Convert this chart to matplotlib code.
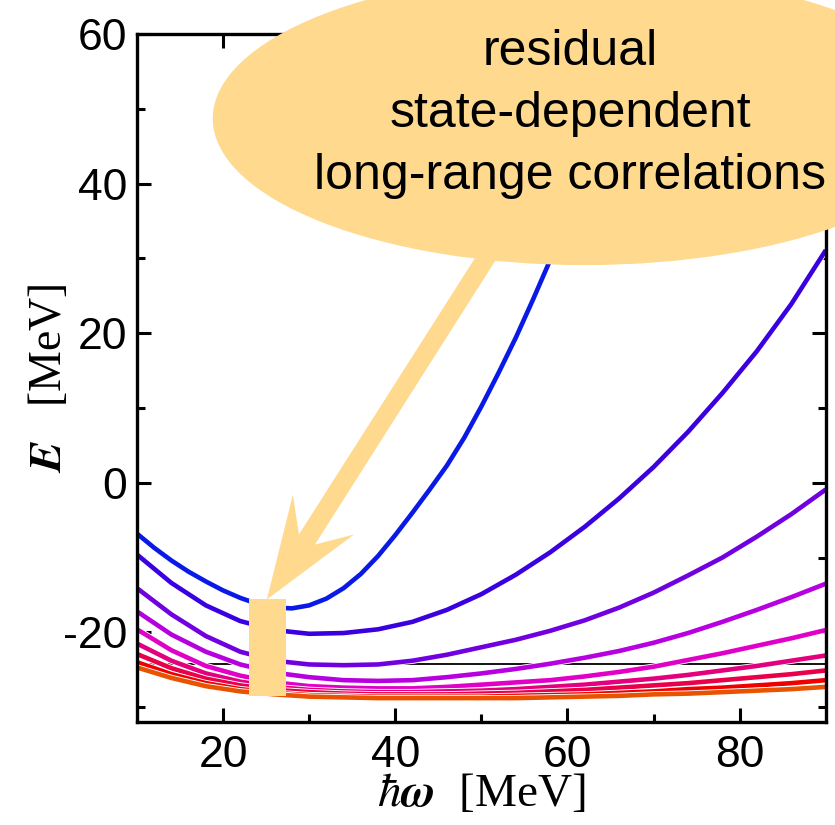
import matplotlib
matplotlib.use("Agg")
import matplotlib.pyplot as plt
import matplotlib.patheffects as pe
from matplotlib.patches import Ellipse, Rectangle, Polygon

plt.rcParams['font.family'] = ['Liberation Sans', 'DejaVu Sans']
plt.rcParams['mathtext.fontset'] = 'stix'
plt.rcParams['axes.unicode_minus'] = False

# oscillator frequency grids (MeV); the steep top curve is sampled finer
hw = [10, 14, 18, 22, 26, 30, 34, 38, 42, 46, 50, 54, 58, 62, 66, 70, 74, 78, 82, 86, 90]
hw1 = [10, 12, 14, 16, 18, 20, 22, 24, 26, 28, 30, 32, 34, 36, 38, 40, 42, 44, 46, 48,
       50, 52, 54, 56, 58, 60, 62, 64, 66, 68, 70]

# ground-state energies, one curve per truncation (top to bottom)
E1 = [-6.8, -8.7, -10.4, -11.9, -13.2, -14.4, -15.4, -16.2, -16.7, -16.8, -16.4, -15.5,
      -14.1, -12.2, -9.8, -7.0, -4.0, -0.9, 2.3, 6.0, 10.2, 14.7, 19.4, 24.5, 29.8,
      35.5, 41.5, 47.6, 54.0, 60.7, 67.5]
E2 = [-9.6, -13.4, -16.4, -18.5, -19.7, -20.2, -20.1, -19.6, -18.6, -17.0, -14.9, -12.3,
      -9.3, -5.9, -2.1, 2.1, 6.8, 12.0, 17.6, 23.9, 31.1]
E3 = [-14.1, -17.6, -20.5, -22.6, -23.8, -24.3, -24.4, -24.3, -23.8, -23.0, -22.0, -21.0,
      -19.8, -18.4, -16.7, -14.7, -12.4, -10.0, -7.2, -4.2, -0.9]
E4 = [-17.2, -20.3, -22.6, -24.3, -25.4, -26.0, -26.4, -26.5, -26.4, -26.0, -25.5, -24.9,
      -24.2, -23.4, -22.5, -21.4, -20.1, -18.6, -17.0, -15.3, -13.5]
E5 = [-19.6, -22.4, -24.5, -25.8, -26.7, -27.2, -27.4, -27.5, -27.5, -27.3, -27.0, -26.7,
      -26.4, -25.9, -25.3, -24.6, -23.7, -22.8, -21.8, -20.8, -19.7]
E6 = [-21.5, -23.8, -25.5, -26.6, -27.3, -27.7, -27.9, -28.0, -28.0, -27.9, -27.8, -27.6,
      -27.3, -27.0, -26.6, -26.2, -25.7, -25.1, -24.5, -23.8, -23.1]
E7 = [-22.9, -24.8, -26.2, -27.1, -27.7, -28.0, -28.2, -28.3, -28.3, -28.3, -28.2, -28.1,
      -27.9, -27.7, -27.4, -27.1, -26.8, -26.4, -26.0, -25.6, -25.1]
E8 = [-24.0, -25.6, -26.8, -27.6, -28.1, -28.4, -28.5, -28.6, -28.6, -28.6, -28.6, -28.5,
      -28.4, -28.3, -28.1, -27.9, -27.6, -27.4, -27.1, -26.8, -26.4]
E9 = [-24.7, -26.1, -27.2, -27.9, -28.3, -28.6, -28.7, -28.8, -28.8, -28.8, -28.8, -28.8,
      -28.7, -28.6, -28.5, -28.3, -28.2, -28.0, -27.8, -27.6, -27.3]

curves = [(hw1, E1), (hw, E2), (hw, E3), (hw, E4), (hw, E5),
          (hw, E6), (hw, E7), (hw, E8), (hw, E9)]
colors = ['#0a1ae6', '#3a00e0', '#7000e0', '#b600e0', '#e000c8',
          '#e2007e', '#e8004a', '#ee0000', '#e85200']

E_ref = -24.2
box_x = [23.0, 27.3]
box_y = [-28.5, -15.6]
note = "residual\nstate-dependent\nlong-range correlations"
fill = '#fed98e'

fig = plt.figure(figsize=(8.35, 8.25), dpi=100)
ax = fig.add_axes([0.164, 0.1248, 0.825, 0.834])

ax.axhline(E_ref, color='black', lw=1.3, zorder=2)

for (x, E), c in zip(curves, colors):
    ax.plot(x, E, color=c, lw=3.3, zorder=3, solid_capstyle='butt',
            path_effects=[pe.Stroke(linewidth=4.6, foreground='white'), pe.Normal()])

ax.add_patch(Rectangle((box_x[0], box_y[0]), box_x[1] - box_x[0], box_y[1] - box_y[0],
                       facecolor=fill, edgecolor='none', zorder=5))

# arrow from the bubble down to the box
arrow = [(51.45, 34.0), (54.0, 34.0), (30.67, -8.27), (35.2, -6.93), (25.09, -15.6),
         (28.11, -1.6), (28.81, -6.93)]
ax.add_patch(Polygon(arrow, closed=True, facecolor=fill, edgecolor='none', zorder=5,
                     clip_on=False))

ax.add_patch(Ellipse((62.0, 48.7), 86.4, 39.2, facecolor=fill, edgecolor='none',
                     zorder=6, clip_on=False))
ax.text(60.3, 49.3, note, ha='center', va='center', fontsize=36, linespacing=1.45,
        zorder=7, clip_on=False)

ax.set_xlim(10, 90)
ax.set_ylim(-32, 60)
ax.set_xticks([20, 40, 60, 80])
ax.set_xticks([30, 50, 70], minor=True)
ax.set_yticks([-20, 0, 20, 40, 60])
ax.set_yticks([-30, -10, 10, 30, 50], minor=True)

ax.tick_params(which='both', direction='in', top=True, right=True, width=2.2,
               labelsize=32)
ax.tick_params(which='major', length=10)
ax.tick_params(which='minor', length=6)
ax.tick_params(axis='x', pad=9)
ax.tick_params(axis='y', pad=7)
for s in ax.spines.values():
    s.set_linewidth(2.4)
    s.set_zorder(4)

ax.set_xlabel(r'$\hbar\boldsymbol{\omega}$  [MeV]', family='Liberation Serif',
              fontsize=34, labelpad=-2)
ax.set_ylabel(r'$\boldsymbol{E}$   [MeV]', family='Liberation Serif', fontsize=33,
              labelpad=-6)

fig.savefig('out.png', dpi=100)
